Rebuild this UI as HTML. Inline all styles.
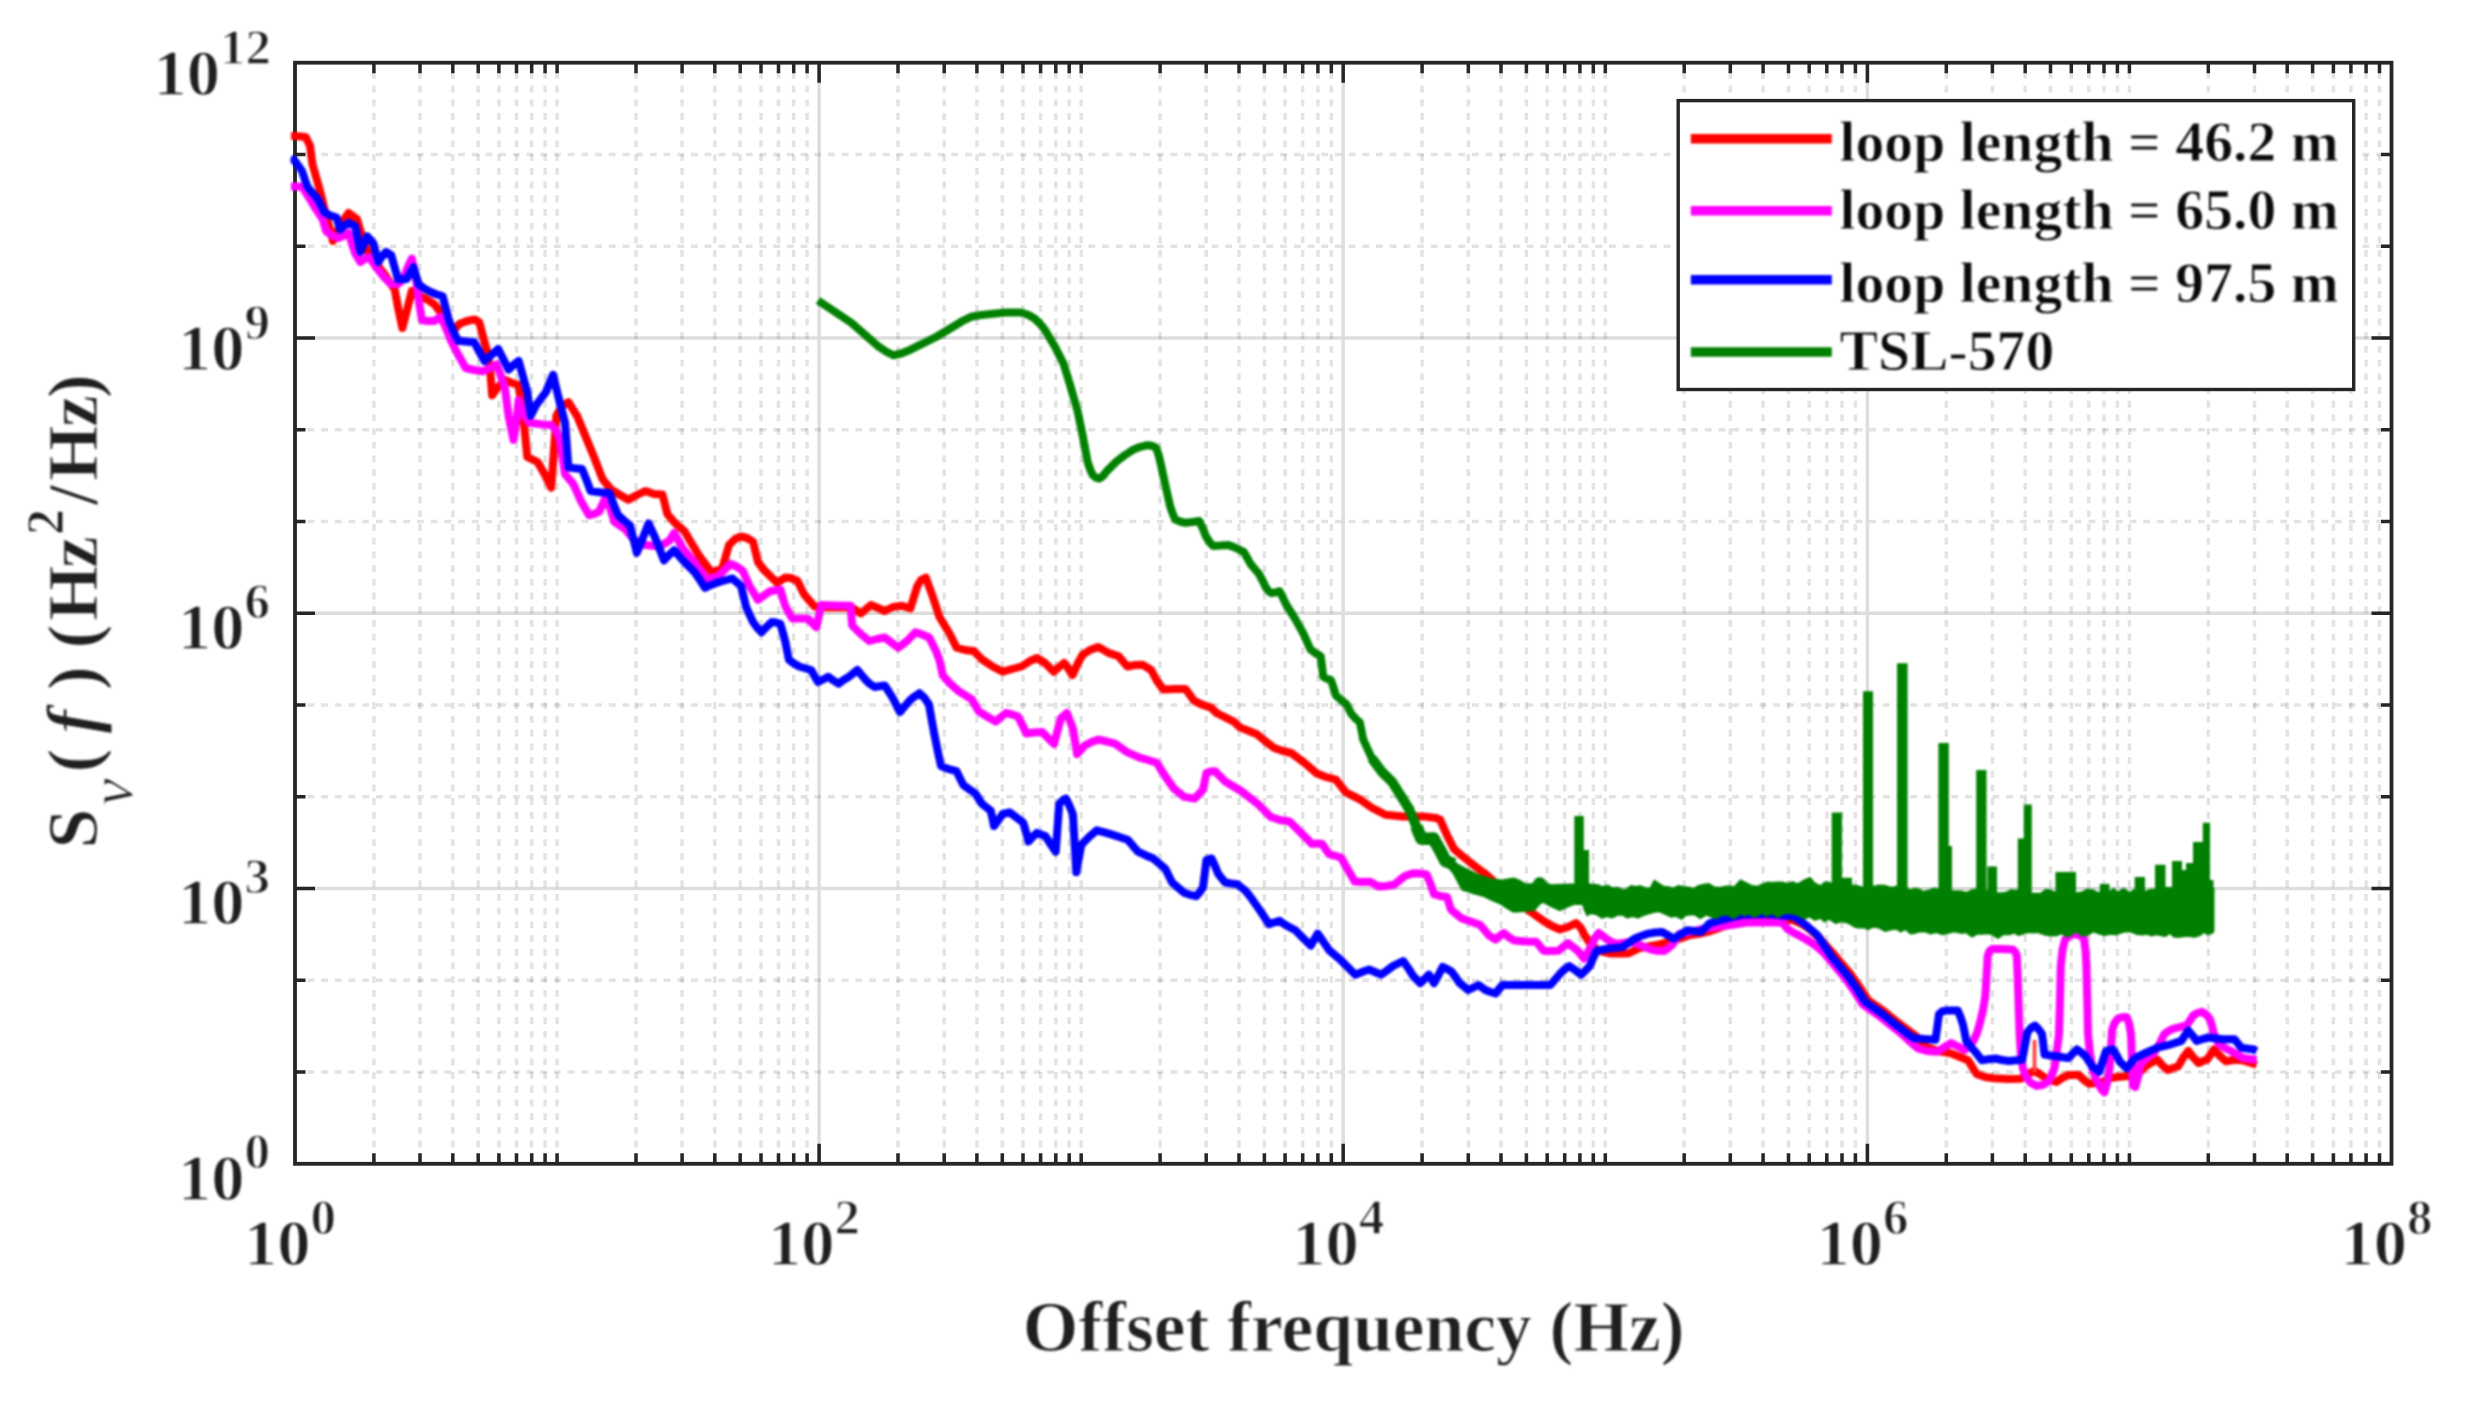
<!DOCTYPE html>
<html lang="en"><head><meta charset="utf-8"><title>Frequency noise PSD</title>
<style>html,body{margin:0;padding:0;background:#fff}body{width:2467px;height:1402px;overflow:hidden}svg{display:block}text{font-family:"Liberation Serif",serif;font-weight:bold;fill:#1f1f1f}</style></head><body>
<svg width="2467" height="1402" viewBox="0 0 2467 1402">
<rect width="2467" height="1402" fill="#fff"/>
<defs><clipPath id="pc"><rect x="295" y="62.7" width="2096.5" height="1101.1"/></clipPath><filter id="soft" x="0" y="0" width="100%" height="100%" filterUnits="userSpaceOnUse" color-interpolation-filters="sRGB"><feGaussianBlur stdDeviation="0.9"/></filter><clipPath id="dc"><rect x="290.5" y="60.7" width="2103" height="1105.1"/></clipPath></defs>
<g clip-path="url(#pc)" fill="none" stroke-width="3.5">
<path d="M373.9 58.3V1163.8M420 58.3V1163.8M452.8 58.3V1163.8M478.2 58.3V1163.8M498.9 58.3V1163.8M516.5 58.3V1163.8M531.7 58.3V1163.8M545.1 58.3V1163.8M557.1 58.3V1163.8M636 58.3V1163.8M682.1 58.3V1163.8M714.8 58.3V1163.8M740.2 58.3V1163.8M761 58.3V1163.8M778.5 58.3V1163.8M793.7 58.3V1163.8M807.1 58.3V1163.8M898 58.3V1163.8M944.2 58.3V1163.8M976.9 58.3V1163.8M1002.3 58.3V1163.8M1023 58.3V1163.8M1040.6 58.3V1163.8M1055.8 58.3V1163.8M1069.2 58.3V1163.8M1081.2 58.3V1163.8M1160.1 58.3V1163.8M1206.2 58.3V1163.8M1239 58.3V1163.8M1264.4 58.3V1163.8M1285.1 58.3V1163.8M1302.7 58.3V1163.8M1317.9 58.3V1163.8M1331.3 58.3V1163.8M1422.1 58.3V1163.8M1468.3 58.3V1163.8M1501 58.3V1163.8M1526.4 58.3V1163.8M1547.2 58.3V1163.8M1564.7 58.3V1163.8M1579.9 58.3V1163.8M1593.3 58.3V1163.8M1605.3 58.3V1163.8M1684.2 58.3V1163.8M1730.3 58.3V1163.8M1763.1 58.3V1163.8M1788.5 58.3V1163.8M1809.2 58.3V1163.8M1826.8 58.3V1163.8M1842 58.3V1163.8M1855.4 58.3V1163.8M1946.3 58.3V1163.8M1992.4 58.3V1163.8M2025.2 58.3V1163.8M2050.5 58.3V1163.8M2071.3 58.3V1163.8M2088.8 58.3V1163.8M2104 58.3V1163.8M2117.4 58.3V1163.8M2129.4 58.3V1163.8M2208.3 58.3V1163.8M2254.5 58.3V1163.8M2287.2 58.3V1163.8M2312.6 58.3V1163.8M2333.4 58.3V1163.8M2350.9 58.3V1163.8M2366.1 58.3V1163.8M2379.5 58.3V1163.8" stroke="#000" stroke-opacity="0.108" stroke-dasharray="6.85 6.85"/>
<path d="M293.7 1072H2391.5M293.7 980.3H2391.5M293.7 796.8H2391.5M293.7 705H2391.5M293.7 521.5H2391.5M293.7 429.7H2391.5M293.7 246.2H2391.5M293.7 154.5H2391.5" stroke="#000" stroke-opacity="0.108" stroke-dasharray="6.85 6.85"/>
<path d="M819.1 62.7V1163.8M1343.2 62.7V1163.8M1867.4 62.7V1163.8M295 888.5H2391.5M295 613.2H2391.5M295 338H2391.5" stroke="#000" stroke-opacity="0.128"/>
</g>
<path d="M373.9 1163.8v-10.5M373.9 62.7v10.5M420 1163.8v-10.5M420 62.7v10.5M452.8 1163.8v-10.5M452.8 62.7v10.5M478.2 1163.8v-10.5M478.2 62.7v10.5M498.9 1163.8v-10.5M498.9 62.7v10.5M516.5 1163.8v-10.5M516.5 62.7v10.5M531.7 1163.8v-10.5M531.7 62.7v10.5M545.1 1163.8v-10.5M545.1 62.7v10.5M557.1 1163.8v-10.5M557.1 62.7v10.5M636 1163.8v-10.5M636 62.7v10.5M682.1 1163.8v-10.5M682.1 62.7v10.5M714.8 1163.8v-10.5M714.8 62.7v10.5M740.2 1163.8v-10.5M740.2 62.7v10.5M761 1163.8v-10.5M761 62.7v10.5M778.5 1163.8v-10.5M778.5 62.7v10.5M793.7 1163.8v-10.5M793.7 62.7v10.5M807.1 1163.8v-10.5M807.1 62.7v10.5M819.1 1163.8v-20M819.1 62.7v20M898 1163.8v-10.5M898 62.7v10.5M944.2 1163.8v-10.5M944.2 62.7v10.5M976.9 1163.8v-10.5M976.9 62.7v10.5M1002.3 1163.8v-10.5M1002.3 62.7v10.5M1023 1163.8v-10.5M1023 62.7v10.5M1040.6 1163.8v-10.5M1040.6 62.7v10.5M1055.8 1163.8v-10.5M1055.8 62.7v10.5M1069.2 1163.8v-10.5M1069.2 62.7v10.5M1081.2 1163.8v-10.5M1081.2 62.7v10.5M1160.1 1163.8v-10.5M1160.1 62.7v10.5M1206.2 1163.8v-10.5M1206.2 62.7v10.5M1239 1163.8v-10.5M1239 62.7v10.5M1264.4 1163.8v-10.5M1264.4 62.7v10.5M1285.1 1163.8v-10.5M1285.1 62.7v10.5M1302.7 1163.8v-10.5M1302.7 62.7v10.5M1317.9 1163.8v-10.5M1317.9 62.7v10.5M1331.3 1163.8v-10.5M1331.3 62.7v10.5M1343.2 1163.8v-20M1343.2 62.7v20M1422.1 1163.8v-10.5M1422.1 62.7v10.5M1468.3 1163.8v-10.5M1468.3 62.7v10.5M1501 1163.8v-10.5M1501 62.7v10.5M1526.4 1163.8v-10.5M1526.4 62.7v10.5M1547.2 1163.8v-10.5M1547.2 62.7v10.5M1564.7 1163.8v-10.5M1564.7 62.7v10.5M1579.9 1163.8v-10.5M1579.9 62.7v10.5M1593.3 1163.8v-10.5M1593.3 62.7v10.5M1605.3 1163.8v-10.5M1605.3 62.7v10.5M1684.2 1163.8v-10.5M1684.2 62.7v10.5M1730.3 1163.8v-10.5M1730.3 62.7v10.5M1763.1 1163.8v-10.5M1763.1 62.7v10.5M1788.5 1163.8v-10.5M1788.5 62.7v10.5M1809.2 1163.8v-10.5M1809.2 62.7v10.5M1826.8 1163.8v-10.5M1826.8 62.7v10.5M1842 1163.8v-10.5M1842 62.7v10.5M1855.4 1163.8v-10.5M1855.4 62.7v10.5M1867.4 1163.8v-20M1867.4 62.7v20M1946.3 1163.8v-10.5M1946.3 62.7v10.5M1992.4 1163.8v-10.5M1992.4 62.7v10.5M2025.2 1163.8v-10.5M2025.2 62.7v10.5M2050.5 1163.8v-10.5M2050.5 62.7v10.5M2071.3 1163.8v-10.5M2071.3 62.7v10.5M2088.8 1163.8v-10.5M2088.8 62.7v10.5M2104 1163.8v-10.5M2104 62.7v10.5M2117.4 1163.8v-10.5M2117.4 62.7v10.5M2129.4 1163.8v-10.5M2129.4 62.7v10.5M2208.3 1163.8v-10.5M2208.3 62.7v10.5M2254.5 1163.8v-10.5M2254.5 62.7v10.5M2287.2 1163.8v-10.5M2287.2 62.7v10.5M2312.6 1163.8v-10.5M2312.6 62.7v10.5M2333.4 1163.8v-10.5M2333.4 62.7v10.5M2350.9 1163.8v-10.5M2350.9 62.7v10.5M2366.1 1163.8v-10.5M2366.1 62.7v10.5M2379.5 1163.8v-10.5M2379.5 62.7v10.5M295 1072h10.5M2391.5 1072h-10.5M295 980.3h10.5M2391.5 980.3h-10.5M295 888.5h20M2391.5 888.5h-20M295 796.8h10.5M2391.5 796.8h-10.5M295 705h10.5M2391.5 705h-10.5M295 613.2h20M2391.5 613.2h-20M295 521.5h10.5M2391.5 521.5h-10.5M295 429.7h10.5M2391.5 429.7h-10.5M295 338h20M2391.5 338h-20M295 246.2h10.5M2391.5 246.2h-10.5M295 154.5h10.5M2391.5 154.5h-10.5" fill="none" stroke="#262626" stroke-width="3.5"/>
<rect x="295" y="62.7" width="2096.5" height="1101.1" fill="none" stroke="#262626" stroke-width="3.8"/>
<g filter="url(#soft)">
<g clip-path="url(#dc)" fill="none" stroke-linejoin="round" stroke-linecap="butt" stroke-width="8">
<polyline stroke="#ff0000" points="291,136 295,136 305.7,137 310,145.7 312.5,164.5 319.4,188.5 326,215 333,241 340,225 348.5,213 357,219.3 362,236 367.3,251.8 375,262 385,275 394.7,289.4 398.5,310 402.4,328 407,310 411.8,291 420,296 428,300 434.9,304.8 441,313 447,326 452,332 459.7,323.7 467,321 475,319.4 479.4,322.6 484.5,342.2 488,354.2 490.5,375 492.2,395.3 497,388 505,380 512,383 518.7,385 523.9,422.7 527.3,457 537.6,462 545,475 551.2,487.7 554.7,439.8 556.4,415.8 562,406 568.4,402.2 577,415.8 585.5,436.4 594,457 602.6,479.2 611,489.4 620,495 628.3,499.7 637,495 645.4,491 654,494 662.5,494.6 667.4,514.2 675,523 684.5,531.3 692,544 700,557 706,565 711.9,572.4 722,569 729,545 735,539 741,536.5 747,538 753,541.6 758,562 764,570 770,575.8 777,582.7 785.5,577.5 791,578 797.5,581 804.3,594.7 814.6,606.6 828,607.5 840,607.5 852,607.5 860.8,613.5 871,605 878,608 884.7,611 893,607 901.9,605.8 910.4,608.4 917.3,586 921,580 925.8,577.6 932.7,596.4 939.5,617 949.8,634 956.6,647.7 965,650 973.7,651 982.3,659.7 992.6,666.5 1002.8,671.7 1012,669 1021.7,666.5 1030,661 1037,658 1045,663 1053.7,671.7 1059,667 1064,663 1068,668 1072.5,675 1078,663 1082.8,654.6 1090,650 1098.2,646.9 1108.5,652.9 1118.7,656.3 1127.3,666.5 1135,665 1142.7,664.8 1151.2,670 1156.7,680.5 1163.4,689.5 1175,689 1185.6,689 1194.2,700.9 1203,705 1211,707.6 1216.6,713 1233.7,721.6 1240,727.4 1257,734.2 1265,741 1274.2,748 1283,751 1291.3,753 1305,763.3 1317,773.6 1326,777 1335.8,779.6 1346,792.4 1359.8,799.3 1371.8,807.8 1385.5,814.7 1402.6,816.4 1423,816.4 1436,818 1440.2,819.8 1447,835.2 1454,848.9 1462.2,856 1474.2,865.6 1486.2,874.5 1500,887 1515,900 1531,912 1543.6,921 1552,926 1560,929.5 1568,927 1576,923 1581,928 1584.6,935.3 1591.5,945.6 1600,951 1611,953.5 1628.3,953.5 1640,948 1656.5,945 1670,941.5 1680,938.5 1690,935 1700,933.5 1710.4,931 1719,928 1727.5,924.8 1739.5,919.5 1760,919.5 1782.3,919.5 1793,920 1801,923.5 1808,928 1814,933 1820,938.5 1826.5,946 1833.5,953.8 1842,964 1850.8,974.4 1859.5,987 1867.9,1000 1876.5,1006 1885,1012 1893.5,1019 1902,1025.7 1909,1031 1915.8,1036 1925.3,1046.5 1938,1051 1951,1053.4 1960,1057 1968,1060.2 1976.6,1074 1985,1077 1993.7,1078.2 2008,1079 2020.5,1078.8 2029,1073.4 2034.5,1071 2039.7,1074 2047,1079 2056.5,1082 2062,1078 2068.5,1075 2078.7,1075 2084,1080 2089,1083.7 2096,1083 2102.7,1082 2110,1078 2119.8,1076.8 2128,1076 2136.9,1075 2145.5,1066.5 2151,1063 2157.5,1059.7 2162,1065 2167.7,1070 2173,1068 2178,1066.5 2183,1058 2188.3,1051 2193,1057 2198.5,1063 2203,1061 2207,1059.7 2213.9,1049.4 2220,1056 2225.9,1061.4 2233,1060 2239.6,1059.7 2248,1062 2256.7,1064.8"/>
<path d="M2034.5 1072V1040" stroke="#ff4040" stroke-width="3.6"/>
<polyline stroke="#ff00ff" points="291,186.5 295,186.5 302,186.7 310.8,200.4 316.5,210 322.8,219.3 326.2,231.2 332,235.5 338.2,238 343,236 348.5,233 355.3,253.5 360.4,262 364.5,259 369,257 376,267 384.4,277.5 391.2,284.3 398,284 403,280 407.5,268 411.8,258.6 415.5,275 418.6,299.7 422,320.2 428,321 434,321 440.9,316.8 446,328 451.1,340.8 457,352.5 465.7,368 474,370 482.8,371.3 490,368 496.5,364.5 501,376 505,388.5 508.5,415.8 513.6,439.8 516.5,420 518.7,400 523,412 529,422.7 535,423.5 542.7,424.4 551,425 556,430 559.8,439.8 565,474 573.5,484.3 580.3,499.7 588.9,515.1 594,514 599.2,511.7 606,496.3 610,508 614.6,522 624.8,528.8 634,540 645,545 655,546 662,545 669.3,540.8 674.2,533 682.8,548.5 693,560.4 700,570 706.7,579.3 712.5,578 718.7,575.8 724.5,570 730.7,563.9 736.5,566.5 742.7,570.7 749.5,586 758,599.8 764,595.5 770,591.2 780.3,589.5 785.5,606.6 792.3,618.6 800,618.6 807.7,618.6 816.3,627.2 821.4,605 836,605.4 850.5,605.8 852.2,625.5 860.8,634 869.3,641 877,639 884.7,637.5 892,643 898.4,647.7 907,641 915.5,632.3 922,634.5 929.2,637.5 936,651 939.4,660 942.8,675.4 950,683.5 958.2,690.8 971.9,699.4 978.7,711.3 987,716.5 995.8,721.6 1001,717 1006,713 1012,714.5 1018,716.5 1026.6,733.6 1034,732.5 1042,731.9 1048,738 1054,743.9 1060.9,718.2 1066.9,713 1072.9,728.5 1077.1,754.1 1084.8,745.6 1091.5,742 1098.5,739.6 1107,741.5 1115.6,743.9 1127.6,752.4 1139.6,757.6 1148,760 1156.7,762.7 1165.3,776.4 1173.8,788.4 1184.1,796.9 1194.4,798.6 1202.9,790 1206.4,773 1210.5,771.5 1214.9,771.2 1225.2,781.5 1233.5,786.5 1242.3,791.8 1257.7,803.8 1270.8,817 1280,820 1289.6,821.5 1303.3,835.2 1311.9,843.8 1322,843.8 1329,854 1341,857.5 1347.8,869.4 1354.7,881.4 1362,882 1370,881.8 1378.6,886.5 1386,886 1394,884.8 1404.3,876.3 1412.9,873.3 1420,873.5 1426.5,874.4 1430.6,884 1434,894.2 1440,896 1447,897 1451,909.6 1454,912.2 1461.4,918.2 1470.5,921.5 1480.2,925 1488.8,935.3 1495.6,939.6 1499.5,936 1503.8,933 1508.5,937 1514.5,940.6 1525,941.5 1536.2,941.8 1543.6,950.7 1551,951 1558.5,950.8 1563.5,946.5 1568,943.2 1573,947 1577.5,950.5 1584.2,958.6 1588,952 1591.5,945.6 1595,938 1598.6,933 1604,937 1609.4,940.9 1615.4,943.9 1630.8,942 1640,945 1650.5,949.4 1657,950.8 1664.2,951 1668.5,948 1672.8,944.3 1676.5,938 1679.6,934 1690.7,931.9 1700,929.5 1716.5,926.7 1731,925 1748,922.3 1762.7,922.5 1778.9,922.3 1783.2,923.3 1787.4,928.9 1793,932.5 1799.4,935.7 1805.5,939 1812,943 1818,947.5 1823.5,952.5 1828.5,958.3 1837,968.5 1845.8,978.9 1854.5,991.5 1862.9,1004.5 1871.5,1010.5 1880,1016.5 1888.5,1023.5 1897,1030.2 1904,1036 1911,1042.5 1918,1048.5 1927,1051 1937.3,1051.7 1944,1047.5 1951,1043 1958,1046.5 1964.6,1050 1969,1046 1973.2,1041.4 1977,1033 1980,1022.6 1983,1010 1985.2,996.9 1986.6,975 1987.7,955.8 1989.5,951 1992,949 2002,949 2012.6,949.5 2015,951.5 2016.8,955.8 2017.8,980 2018.8,1010 2019.6,1034 2021,1056.8 2023,1068.5 2026.2,1077.4 2031,1083 2036.5,1085.9 2042.5,1085 2048.5,1081.5 2052,1075 2054.8,1066.5 2057,1050 2059,1034 2060,1000 2060.8,965.6 2062.5,950 2065,939.9 2069,936 2073.6,933.9 2079,935 2083.9,938.2 2085.5,950 2086.4,965.6 2087.3,1000 2088,1034 2090,1054 2092.4,1068.3 2095.5,1078 2099.3,1085.4 2102,1090 2104.4,1092.2 2107,1083 2109.5,1068.3 2111,1050 2112,1030.6 2114.5,1023 2118,1018.6 2122,1017.2 2126.6,1016.9 2129,1023 2131,1034 2132,1060 2132.8,1085.4 2135.2,1087 2137.8,1078 2140.3,1064.8 2147,1058 2154,1052.9 2159.5,1044 2164.3,1034 2168.5,1031 2172.9,1028.9 2180,1027 2186.5,1025.5 2190,1020.5 2193.4,1015.2 2197.5,1013 2202,1011.8 2206,1014.5 2209.6,1018.6 2212,1026 2213.9,1034 2216.5,1039.5 2219,1044.3 2225,1048 2231,1051 2237,1054.5 2243,1058 2250,1059 2256.7,1059.7"/>
<polyline stroke="#0000ff" points="290.5,158 295,161 302,171 307.4,186.7 312.5,193 317.6,198.7 324.5,212.4 330.5,215.5 336.5,217.5 340,229.5 344.5,225.5 348.5,222.7 355.3,226 358,240 360.4,251.8 364,243 367.3,236.4 373.3,243.2 378.4,262 382,256.5 386,251.8 391.2,255.2 394.5,267 398,279.2 402.5,279.3 406.6,279 410,273 413.5,267.2 418.6,284.3 423.5,288 428.9,291.1 435.5,294 442.6,296.3 446,309 449.4,322 453.5,331.5 458,340.8 465.5,341.5 474.2,342.2 479.5,352 484.5,361 491.5,355 498.2,349 503.5,359.5 508.5,369.6 513.5,365 518.7,361 523,376.5 527.3,391.9 529,404 530.7,415.8 535.8,405.6 541,398.5 546.1,391.9 549.5,383 553,374.8 558,395.3 561.5,409 565,422.7 566.8,445 568.4,467.2 575,468.2 582,468.9 586.5,480 590.6,491.1 600,492.2 609.4,492.9 613.5,504 618,515 624,520.5 630,525.4 633.5,539 636.8,552.8 642.8,538 648.6,523.5 655.4,538.2 659.8,549.5 664,560.4 669,555 674.2,550.2 679.5,556.5 684.5,562.2 694.8,572.4 700,580 705,587.8 711,585 717,582.7 724.5,580.5 732.4,578.4 741,586 743.5,596 746,606.6 749.5,614.5 753,622 757,627.5 761.5,632.3 766.5,627 771.8,622 776,622.5 780.3,623.8 783,633 785.5,642.6 788.9,659.7 794,663.5 799.2,666.5 811.1,670 814.5,676 818,682 823,679.5 828.3,676.8 833.5,680.5 838.5,683.7 843.5,680 848.8,676.8 857.4,670 861.5,675 865.9,680.2 870,684 874.5,687 879.5,686.2 884.7,685.4 889,692 893.3,699 896.8,706 900,712 905,706 910.3,699.8 914.5,696.5 919.4,693.2 924.5,698 929,704.5 931.5,719 934.2,733.6 937.5,750 941,766 948.5,769 956.5,771.2 963.3,785 969.5,789.5 975.3,793.5 982,803.8 990.7,810.6 992.5,818.5 994,826 998.5,820 1002.7,814 1009.5,812.3 1016.5,817.5 1023.2,822.6 1026,832 1028.4,841.4 1032.5,837 1036.9,832.9 1041,834.5 1045.5,836.3 1050.5,844 1055.7,851.7 1057.5,828 1059.2,803.8 1062.5,800.5 1066,798.6 1069.5,806 1072.9,814 1074.6,843 1076.3,872.2 1078.8,858 1081.4,844.8 1089,837 1096.8,830.3 1104.5,832.3 1112.2,834.6 1127.6,839.7 1137.9,851.7 1145.5,855.2 1153.3,858.5 1165.3,868.8 1172.1,882.5 1184.1,892.8 1190,894.8 1196.1,896.2 1199.5,892.5 1202.9,887.6 1204.7,874 1206.4,860.2 1209,859 1211.5,858.5 1215,866 1218.3,874 1225.2,882.5 1231,883.5 1237.2,884.2 1245.7,891 1250.3,896.8 1258.8,908.8 1264,916.5 1269,924.2 1274,922.5 1279.4,920.8 1285.5,925 1295.4,930.2 1303,938 1310.8,945.6 1314.3,939.5 1317.7,933.6 1323.5,942 1329.6,950.7 1340,959.3 1348.5,967.8 1355.3,974.7 1362,972 1369,969.5 1375,972 1381,974.7 1387,970.5 1393,966 1398,963.5 1403.2,961 1408.5,968.5 1413.5,976.4 1420.3,983.2 1424.5,979 1428.9,974.7 1431.5,979 1434,983.2 1438.5,975 1442.6,967 1447,969 1451.1,971.2 1455.5,977 1459.7,983.2 1468.3,990 1473.5,987.5 1478.5,985 1482,987.5 1485.4,990 1490.5,992 1495.6,993.5 1499,989 1502.5,985 1526,985 1550.4,985 1555.5,979 1560.7,973 1565,969 1569.2,966 1575,970 1581.2,974.7 1585.5,970.5 1589.8,966 1593.2,958 1596.6,950.7 1609,948.5 1622.3,947.3 1628.5,943 1634.3,938.7 1641,936 1648,933.6 1655,932.5 1661.7,931.9 1667.5,935 1673.6,938.7 1680.5,934.5 1687.3,930.2 1694,931 1701,931.9 1705.5,927.5 1709.6,923.3 1719,920.5 1728.5,918.2 1742,914.8 1768,914 1793.5,916.5 1799.5,920.5 1805.5,925 1811.5,930 1817.5,935.3 1824,945 1831,955.8 1839.5,966 1848.3,976.4 1857,989 1865.4,1002 1874,1008 1882.5,1014 1891,1021 1899.6,1027.7 1906.5,1033 1913.3,1038 1924,1039 1935.5,1039.7 1937.3,1027 1939,1014 1942,1011.5 1945.8,1010.6 1957.8,1010.6 1960.5,1017 1962.9,1024.3 1964.7,1033 1966.4,1041.4 1971.5,1047.5 1976.6,1053.4 1981.7,1060.2 1988.5,1059.3 1995.4,1058.5 2002,1060 2009,1061 2016.5,1060.2 2022.2,1059.7 2024.8,1046 2027.4,1032.3 2031,1028 2035,1025.5 2038.5,1029 2042,1034 2043.3,1044 2044.5,1054.6 2050.5,1055.5 2056.5,1056.3 2062.5,1057.2 2068.5,1058 2072.8,1053.5 2077,1049.4 2081.3,1052.5 2085.6,1056.3 2089,1061.5 2092.4,1066.5 2099.3,1071.7 2102.7,1061 2106,1051 2109.5,1050 2113,1049.4 2116.4,1055 2119.8,1061.4 2123.2,1065 2126.6,1068.3 2131,1063 2135.2,1058 2145.5,1052.9 2157.5,1047.7 2171,1044.3 2181.4,1040.9 2184.8,1035.5 2188.3,1030.6 2192.5,1035.5 2196.8,1040.9 2202.8,1039 2208.8,1037.5 2222.5,1039.2 2234.5,1039.2 2238,1043.5 2241.3,1047.7 2253.3,1049.4 2256.7,1051"/>
<polyline stroke="#008000" points="818,300.5 851.3,322.8 878.7,346.7 886,351.5 893.3,355.3 901,353.5 909.5,350.2 936.9,336.5 954,326.2 962.5,321 971.1,316.8 979.5,315.2 988.3,314.2 1005.4,312.5 1020.8,312.5 1028,314.8 1034.5,318.5 1039.8,323.5 1044.7,329.6 1055,346.7 1063.6,363.9 1070.4,386 1077.3,410 1082.4,434 1087.5,461.4 1090,469 1092.7,475 1096,477.8 1099.5,478.5 1103,476 1106.3,471.7 1116.6,461.4 1125,455 1133.7,449.4 1140.5,446.8 1147.4,445.2 1152,445.8 1156,447.7 1158.6,455 1161,464.8 1166.2,488.8 1170,505.7 1172.6,513.5 1175.2,519.4 1180,521.5 1185.5,522.8 1192.5,522 1199.2,521 1202.6,528 1206,536.5 1209.5,542 1212.9,545.9 1220.5,545.6 1228.3,545 1236,548 1243.7,551.9 1247,557.5 1250.5,563.9 1259,574 1262.5,580.5 1266,587.8 1268.5,591 1271,593 1275.3,592.5 1279.6,591.2 1283,598 1286.4,605 1295,618.6 1303.6,634 1310.4,649.4 1315.5,653.3 1320.7,656.3 1322,666 1323.2,676.8 1327,678.8 1331,680.2 1333.5,687.5 1336,695.6 1341,700 1346.3,704.2 1351.2,713.7 1355.5,718.5 1359.8,722.2 1361.5,730.5 1363.2,739.4 1371.8,758.2 1382,771.9 1392.3,782.1 1400.9,795.8 1409.4,809.5 1416.3,826.6 1421.4,838.6 1427.5,838.8 1433.4,838.6 1440.2,850.6 1445.4,860.9 1453.9,864.3"/>
<polyline stroke="#008000" stroke-width="10" points="1371.8,758.2 1382,771.9 1392.3,782.1 1400.9,795.8 1409.4,809.5 1416.3,826.6 1421.4,838.6 1427.5,838.8 1433.4,838.6 1440.2,850.6 1445.4,860.9 1453.9,864.3"/>
<polyline stroke="#008000" stroke-width="12.5" points="1416.3,826.6 1421.4,838.6 1427.5,838.8 1433.4,838.6 1440.2,850.6 1445.4,860.9 1453.9,864.3"/>
</g>
<g clip-path="url(#pc)">
<polygon fill="#008000" stroke="#008000" stroke-width="2" stroke-linejoin="round" points="1450,858 1458,865 1465.7,869 1478,875 1491.3,879.3 1502,880.5 1513.6,878.5 1520,881 1525.6,884.4 1533,884 1536,879.5 1539.5,878 1543.5,879.5 1547,884 1551.2,885.2 1562,884.8 1572.3,884.4 1576,884.9 1580,886.8 1583.7,886.5 1588.3,884.4 1593.3,884.7 1598.1,885.2 1601.9,887.1 1607.8,885.7 1612,888.3 1618.4,888.1 1623,890.1 1626.7,889.6 1631.1,886 1634.9,886.9 1640.9,886.3 1646.1,888.7 1650.7,888.2 1654.4,880.7 1658.5,883.6 1663.3,886.7 1668.6,887.2 1673,888.8 1678.6,885.9 1683.8,887.1 1689.9,887.9 1694.3,889.1 1698.1,886.1 1703.9,884.7 1708.9,884 1714.4,887.5 1719.6,887.9 1724,886.9 1729.3,886.2 1734.2,887.4 1740.5,880.4 1746,883.2 1751.6,886 1758.1,886.7 1762.4,884.4 1768,882.4 1772.8,883 1776.7,882.4 1782.5,882.6 1786.7,883.8 1792.8,882.1 1797.7,884.3 1803.8,880.6 1809.9,877.9 1814.7,883.3 1820.8,886.3 1824.8,882.4 1829,882.7 1833.9,884.7 1838.2,882 1843,884.1 1848.2,887.3 1853.8,885.4 1859.1,886.5 1862.8,887.9 1868.6,888.2 1874.5,886.4 1879.2,885.4 1884.6,885.8 1888.3,886.9 1892.3,887.9 1896,886.6 1899.9,887.5 1904.5,887.3 1910.6,890.4 1914.6,888.7 1919.1,889.4 1923,891.9 1929.5,890.2 1934.4,888.5 1938.2,889.9 1942.5,892.4 1946.5,888.5 1952.8,891.2 1956.8,891.3 1960.4,891.2 1966.8,893 1972.4,890 1977,889.6 1982.8,891.5 1988.6,890.5 1992.8,893 1999.3,893.3 2005.2,893.1 2010.9,890.1 2016,890.8 2019.5,889.1 2023.9,890.3 2029.5,893.8 2034.3,893.7 2040.8,893.8 2045.4,890.1 2049.5,890 2053.7,892.1 2059.9,893.1 2064.8,892.1 2070.7,889.2 2076.2,893.3 2082,892.4 2087,889.5 2092.8,890.2 2098.7,893.4 2103.4,890.4 2109.8,891.9 2113.8,888.9 2117.7,892.7 2123.6,888.8 2129.6,892.8 2135.1,889.6 2140.2,888.4 2143.8,892.5 2149.2,890.1 2155.5,889.4 2161.6,891.2 2165.8,888.1 2170.2,887.9 2175.4,887.8 2180.2,886.9 2186.4,887.8 2191.3,888.8 2197.5,887.7 2203.7,887.9 2208.8,887.8 2212.4,887.2 2213.5,889 2213.5,931 2212.4,932.8 2208,934.4 2203.8,931.8 2200,935.1 2194.7,936.7 2189.1,936 2184.5,936 2178.1,936.9 2173.9,936.6 2169.7,932.7 2165.4,936.1 2161.7,935.4 2156.6,934.2 2150.8,935.4 2147.3,933.7 2141.8,934.4 2136.4,933.9 2130.4,931.4 2125.8,931.5 2122.2,932 2116.6,934.4 2110.5,933.8 2104.5,935 2098.5,933.3 2093.4,931.4 2087.5,934.8 2082.1,935.8 2076.1,931.2 2070.7,935.1 2066.7,936.6 2062.2,933.4 2056.1,935.3 2050.6,935.6 2045.5,934.8 2041.3,933.4 2037.8,932.1 2033.1,932.5 2028.8,932.1 2023.8,933.3 2018.8,935 2014.1,932.5 2009.5,934.3 2003.1,934.1 1998,938 1991.6,933.9 1986.8,933.2 1981.9,933.7 1977.7,933.5 1972.2,936.6 1966.1,932.1 1962.2,932.9 1956.4,931.7 1952.5,931.5 1948,933.1 1942.6,934.4 1936.6,932 1930.1,933.4 1925.1,931.4 1919.1,931.6 1914.3,933 1910.5,933.4 1905.6,928.9 1900.4,931.6 1896.9,928.7 1893.3,929.1 1889.3,929.8 1884.9,931 1880.5,928.4 1876.4,926.8 1872.4,926.9 1868.2,929 1864.3,927.3 1858,927.5 1853.5,926 1847.4,922.5 1841.4,921.2 1835.5,923 1829.1,918.7 1824.4,921.5 1820.7,917.8 1815.1,919.8 1808.8,916.1 1804.6,918.8 1798.3,915.1 1794.4,914 1788.6,912.7 1784.3,913.1 1777.9,916.8 1771.4,912.9 1766.4,915.9 1761.9,912.6 1757.1,915.5 1753.5,916.5 1749.1,913.6 1744.5,915.3 1739.8,913.4 1733.8,918.2 1728.8,915.1 1722.4,914.3 1716,918.2 1712.1,917.1 1706.5,914.5 1700.3,918.2 1694.8,914.5 1690.5,914.6 1685.7,915.1 1681.8,918.8 1675.5,915.7 1671.2,916.7 1665.1,913.9 1658.7,911.2 1653.6,912.1 1648.1,913.6 1643,915.2 1638.2,917.6 1632.4,916.1 1627.4,917.6 1623.1,915 1617.9,914.6 1612,917.5 1607,916 1601.8,917.8 1596.9,914.4 1591,913 1587.2,915.2 1584.5,909 1582,901.5 1571,905 1559.8,910 1551,906 1542.7,901.5 1538.5,905 1534,910 1524,911 1513.6,911.8 1507,908 1500,903.2 1492,900 1484.5,896.4 1473,893 1462.2,889.5 1454,874 1450,869"/>
<path d="M1574.3 905V816H1583.8V905ZM1583.8 905V850H1589V905ZM1831.7 905V812.5H1842V905ZM1842 905V877.7H1852V905ZM1863 905V691.3H1873V905ZM1897 905V663.3H1907.6V905ZM1938.4 905V743H1948.8V905ZM1948.8 905V846H1952V905ZM1976.2 905V770H1986.5V905ZM1987.4 905V866.6H1997V905ZM2017.8 905V838.6H2023.8V905ZM2023.8 905V804.5H2031.8V905ZM2055.5 905V872H2076V905ZM2099.8 905V884H2109.5V905ZM2134.7 905V877H2145V905ZM2155 905V864.7H2165.5V905ZM2172 905V861H2182V905ZM2182 905V870H2186V905ZM2186 905V863H2193V905ZM2193 905V842H2202.8V905ZM2202.8 905V822.7H2210V905ZM2210 905V880H2213.5V905Z" fill="#008000"/>
</g>
</g>
<rect x="1678.2" y="100.6" width="675.5" height="288.9" fill="#fff" stroke="#262626" stroke-width="3.4"/>
<g filter="url(#soft)">
<line x1="1690.8" x2="1831.8" y1="138.7" y2="138.7" stroke="#ff0000" stroke-width="9.5"/>
<text x="1839.5" y="160.8" font-size="57.7" style="fill:#0a0a0a" stroke="#fff" stroke-width="0.9">loop length = 46.2 m</text>
<line x1="1690.8" x2="1831.8" y1="210.8" y2="210.8" stroke="#ff00ff" stroke-width="9.5"/>
<text x="1839.5" y="229.4" font-size="57.7" style="fill:#0a0a0a" stroke="#fff" stroke-width="0.9">loop length = 65.0 m</text>
<line x1="1690.8" x2="1831.8" y1="279.7" y2="279.7" stroke="#0000ff" stroke-width="9.5"/>
<text x="1839.5" y="301.9" font-size="57.7" style="fill:#0a0a0a" stroke="#fff" stroke-width="0.9">loop length = 97.5 m</text>
<line x1="1690.8" x2="1831.8" y1="351.9" y2="351.9" stroke="#008000" stroke-width="9.5"/>
<text x="1839.5" y="370.4" font-size="57.7" style="fill:#0a0a0a" stroke="#fff" stroke-width="0.9">TSL-570</text>
<text x="177.9" y="1199.9" font-size="66.5" stroke="#fff" stroke-width="1.3">10<tspan font-size="51" dx="0" dy="-31.5">0</tspan></text>
<text x="177.9" y="924.2" font-size="66.5" stroke="#fff" stroke-width="1.3">10<tspan font-size="51" dx="0" dy="-31.5">3</tspan></text>
<text x="177.9" y="649" font-size="66.5" stroke="#fff" stroke-width="1.3">10<tspan font-size="51" dx="0" dy="-31.5">6</tspan></text>
<text x="177.9" y="370.1" font-size="66.5" stroke="#fff" stroke-width="1.3">10<tspan font-size="51" dx="0" dy="-31.5">9</tspan></text>
<text x="153.5" y="95.2" font-size="66.5" stroke="#fff" stroke-width="1.3">10<tspan font-size="51" dx="0" dy="-31.5">12</tspan></text>
<text x="244" y="1265.4" font-size="66.5" stroke="#fff" stroke-width="1.3">10<tspan font-size="51" dx="0" dy="-31.5">0</tspan></text>
<text x="768.1" y="1265.4" font-size="66.5" stroke="#fff" stroke-width="1.3">10<tspan font-size="51" dx="0" dy="-31.5">2</tspan></text>
<text x="1292.2" y="1265.4" font-size="66.5" stroke="#fff" stroke-width="1.3">10<tspan font-size="51" dx="0" dy="-31.5">4</tspan></text>
<text x="1816.4" y="1265.4" font-size="66.5" stroke="#fff" stroke-width="1.3">10<tspan font-size="51" dx="0" dy="-31.5">6</tspan></text>
<text x="2340.5" y="1265.4" font-size="66.5" stroke="#fff" stroke-width="1.3">10<tspan font-size="51" dx="0" dy="-31.5">8</tspan></text>
<text x="1353.7" y="1351.2" font-size="71.5" text-anchor="middle" stroke="#fff" stroke-width="1">Offset frequency (Hz)</text>
<text transform="translate(97 846) rotate(-90)" font-size="71.5" stroke="#fff" stroke-width="1" xml:space="preserve"><tspan x="-2.5" y="0" font-size="71.5">S</tspan><tspan x="40" y="34.5" font-size="62" font-style="italic" font-weight="normal">&#957;</tspan><tspan x="73.5" y="0" font-size="71.5">(</tspan><tspan x="112.5" y="0" font-size="71.5" font-style="italic">f</tspan><tspan x="156" y="0" font-size="71.5">)</tspan><tspan x="180 197.5 225 278" y="0" font-size="71.5"> (Hz</tspan><tspan x="311" y="-34" font-size="52">2</tspan><tspan x="341 365 419 448" y="0" font-size="71.5">/Hz)</tspan></text>
</g>
</svg></body></html>
